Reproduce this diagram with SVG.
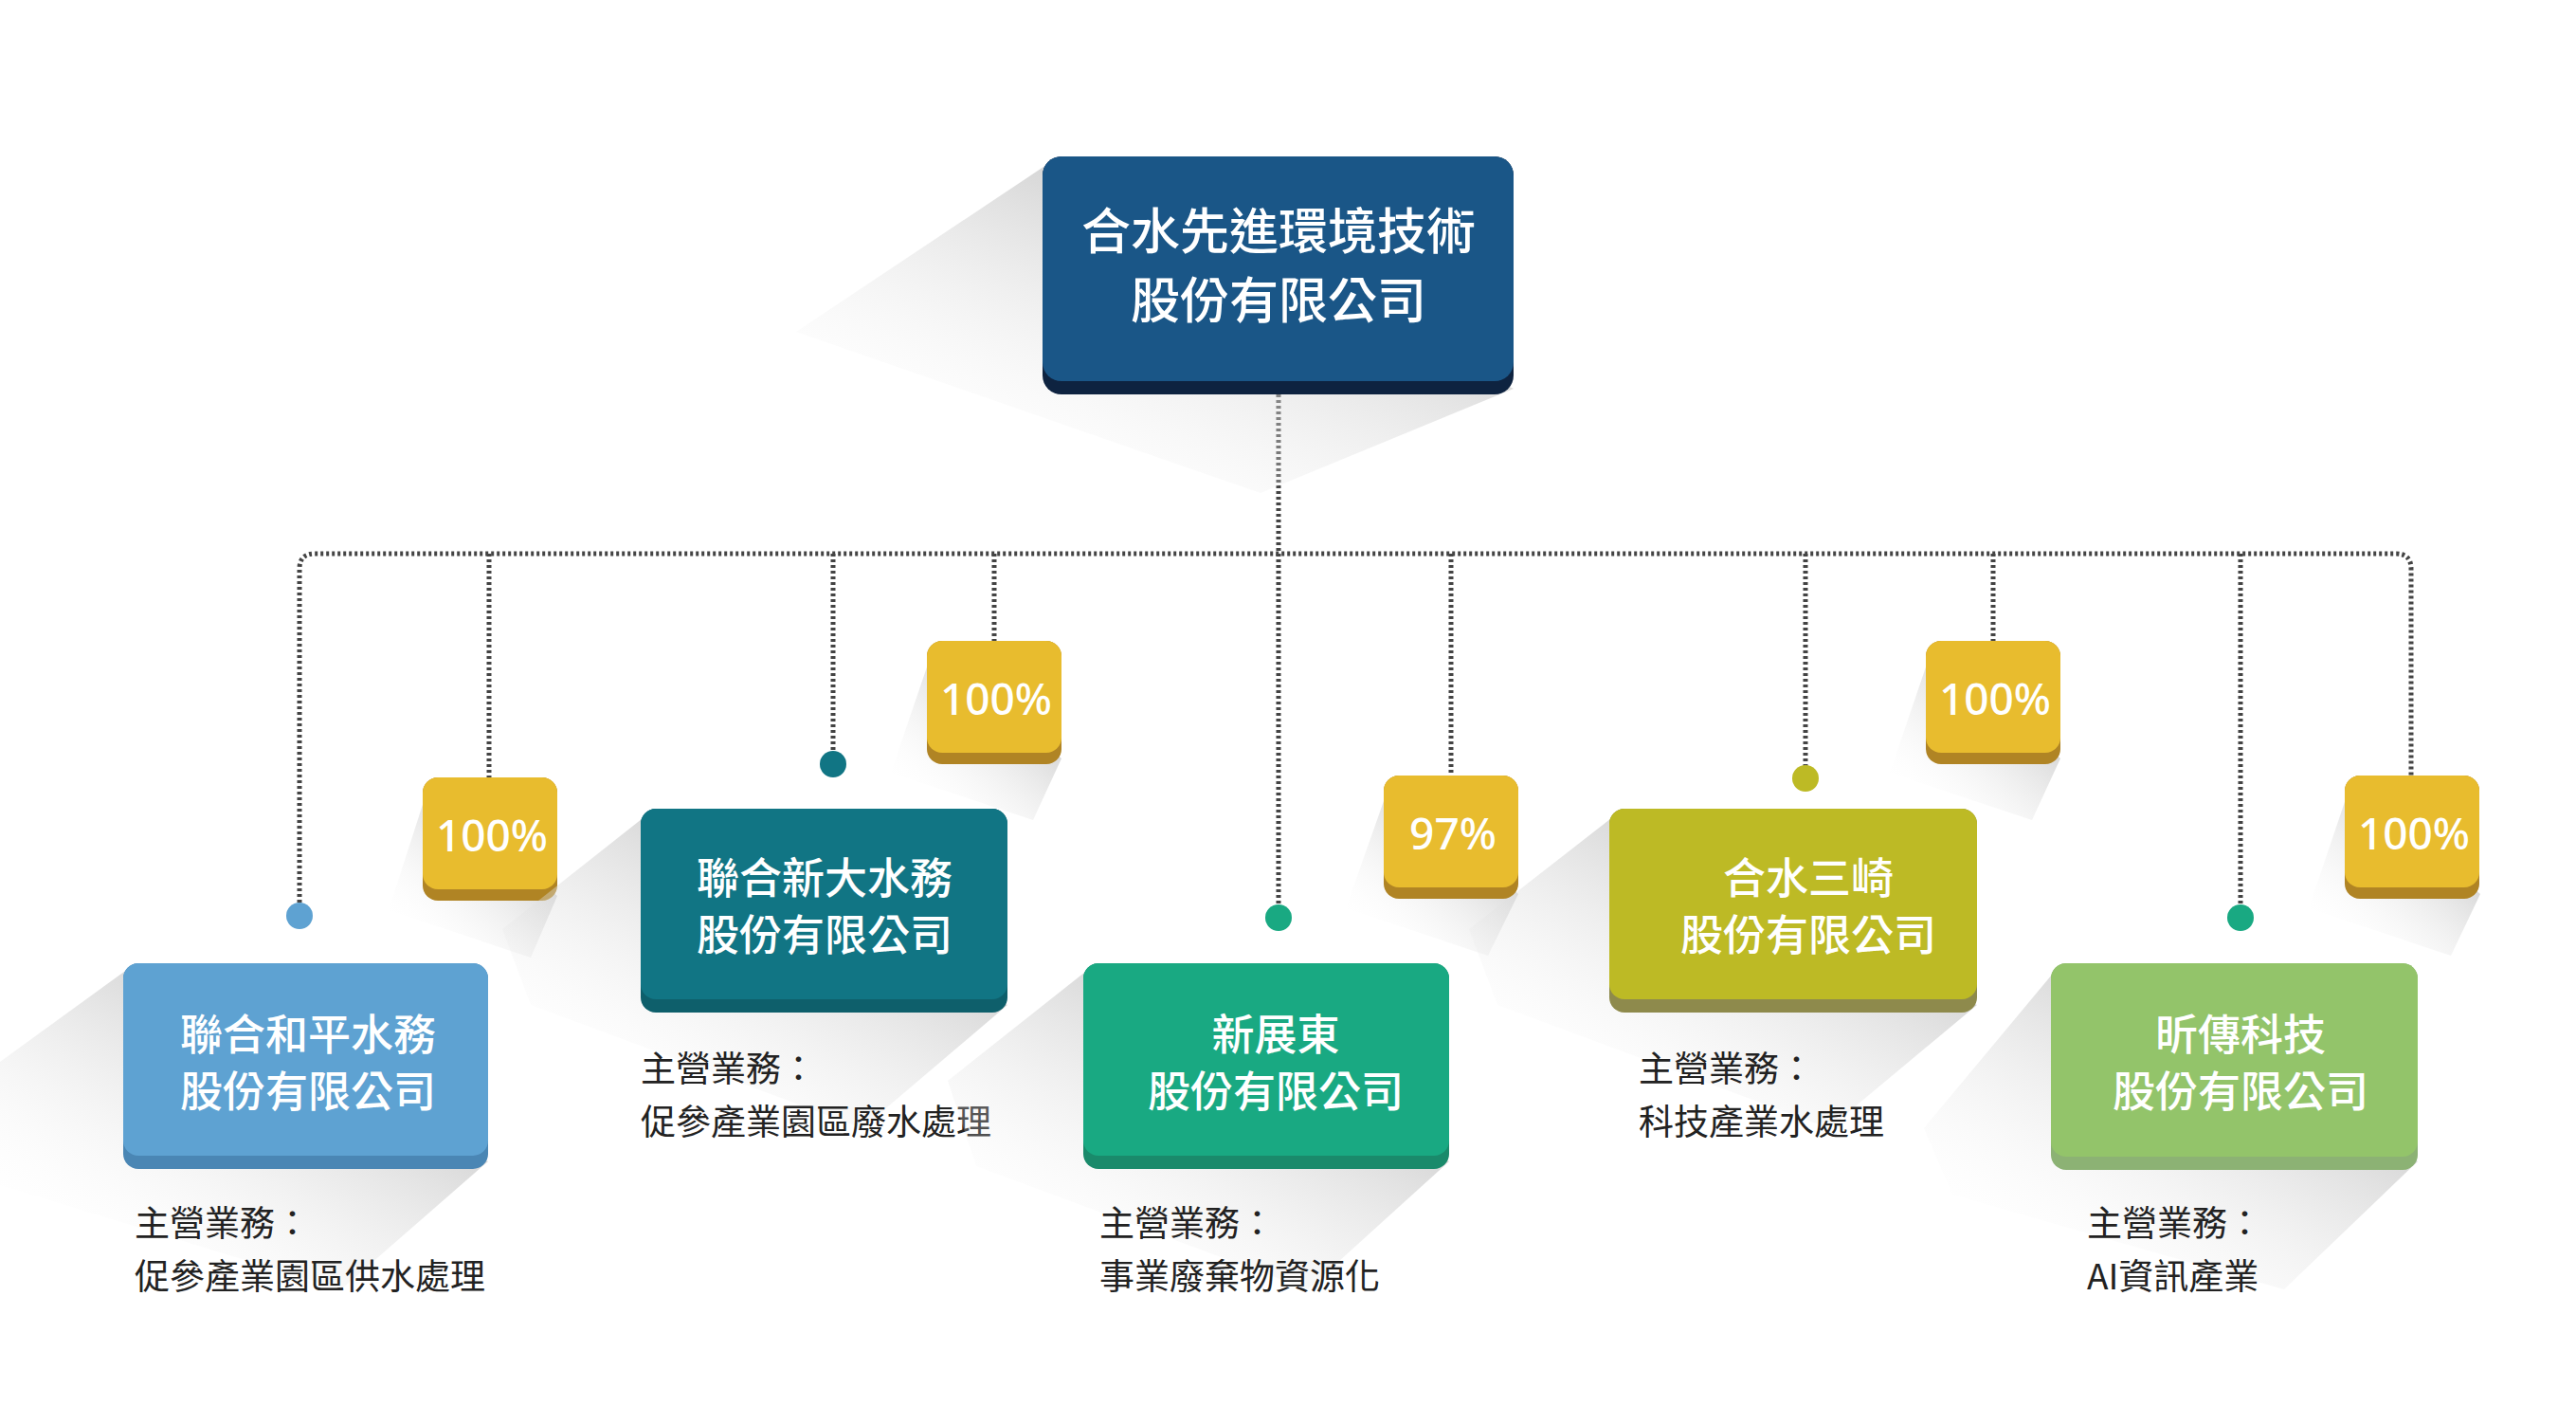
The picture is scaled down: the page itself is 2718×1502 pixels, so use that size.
<svg xmlns="http://www.w3.org/2000/svg" width="2718" height="1502" viewBox="0 0 2718 1502">
<style>
.t{font-family:"Noto Sans CJK TC","Noto Sans",sans-serif;fill:#fff;text-anchor:middle;font-weight:500}
.b{font-family:"Noto Sans CJK TC","Noto Sans",sans-serif;fill:#222;font-size:37px}
.p{font-family:"Noto Sans","Noto Sans CJK TC",sans-serif;fill:#fff;font-size:46px;text-anchor:middle;font-weight:500}
.ln{fill:none;stroke:#444;stroke-width:5;stroke-dasharray:3 3}
.sh{fill:url(#sg)}
</style>
<defs>
<linearGradient id="sg" x1="0.8" y1="0.1" x2="0.1" y2="0.9">
<stop offset="0" stop-color="#b5b5b5" stop-opacity="0.9"/>
<stop offset="1" stop-color="#ffffff" stop-opacity="0"/>
</linearGradient>
</defs>
<rect width="2718" height="1502" fill="#fff"/>
<g id="connectors">
<path class="ln" d="M316 958 V600 Q316 584 332 584 H2528 Q2544 584 2544 600 V818"/>
<path class="ln" d="M516 584 V820 M879 584 V803 M1049 584 V676 M1349 416 V966 M1531 584 V818 M1905 584 V818 M2103 584 V676 M2364 584 V966"/>
<circle cx="316" cy="966" r="14" fill="#5EA2D2"/>
<circle cx="879" cy="806" r="14" fill="#117584"/>
<circle cx="1349" cy="968" r="14" fill="#19A982"/>
<circle cx="1905" cy="821" r="14" fill="#BDBA25"/>
<circle cx="2364" cy="968" r="14" fill="#19A982"/>
</g>
<g id="top">
<polygon class="sh" points="1110,170 840,350 1330,520 1597,410"/>
<rect x="1100" y="165" width="497" height="251" rx="20" fill="#0E2340"/>
<rect x="1100" y="165" width="497" height="237" rx="20" fill="#1A5687"/>
<text class="t" x="1349" y="263" font-size="52">合水先進環境技術</text>
<text class="t" x="1349" y="336" font-size="52">股份有限公司</text>
</g>
<g id="b1"><polygon class="sh" points="452,830 410,960 560,1010 588,945"/>
<rect x="446" y="820" width="142" height="130" rx="16" fill="#B08424"/><rect x="446" y="820" width="142" height="118" rx="16" fill="#E8BC2E"/>
<text class="p" x="519" y="898">100%</text></g>
<g id="b2"><polygon class="sh" points="984,686 940,815 1090,865 1120,800"/>
<rect x="978" y="676" width="142" height="130" rx="16" fill="#B08424"/><rect x="978" y="676" width="142" height="118" rx="16" fill="#E8BC2E"/>
<text class="p" x="1051" y="754">100%</text></g>
<g id="b3"><polygon class="sh" points="1466,828 1420,958 1570,1008 1602,943"/>
<rect x="1460" y="818" width="142" height="130" rx="16" fill="#B08424"/><rect x="1460" y="818" width="142" height="118" rx="16" fill="#E8BC2E"/>
<text class="p" x="1533" y="896">97%</text></g>
<g id="b4"><polygon class="sh" points="2038,686 1994,815 2144,865 2174,800"/>
<rect x="2032" y="676" width="142" height="130" rx="16" fill="#B08424"/><rect x="2032" y="676" width="142" height="118" rx="16" fill="#E8BC2E"/>
<text class="p" x="2105" y="754">100%</text></g>
<g id="b5"><polygon class="sh" points="2480,828 2436,958 2586,1008 2617,943"/>
<rect x="2474" y="818" width="142" height="130" rx="16" fill="#B08424"/><rect x="2474" y="818" width="142" height="118" rx="16" fill="#E8BC2E"/>
<text class="p" x="2547" y="896">100%</text></g>
<g id="c1"><polygon class="sh" points="135,1022 0,1120 0,1250 360,1360 515,1225"/>
<rect x="130" y="1016" width="385" height="217" rx="16" fill="#4A86B4"/><rect x="130" y="1016" width="385" height="203" rx="16" fill="#5EA2D2"/>
<text class="t" x="325" y="1108" font-size="45">聯合和平水務</text><text class="t" x="325" y="1168" font-size="45">股份有限公司</text>
<text class="b" x="142" y="1304">主營業務：</text><text class="b" x="142" y="1360">促參產業園區供水處理</text></g>
<g id="c2"><polygon class="sh" points="682,860 530,980 560,1060 910,1190 1063,1060"/>
<rect x="676" y="853" width="387" height="215" rx="16" fill="#0E5F6B"/><rect x="676" y="853" width="387" height="201" rx="16" fill="#117584"/>
<text class="t" x="870" y="943" font-size="45">聯合新大水務</text><text class="t" x="870" y="1003" font-size="45">股份有限公司</text>
<text class="b" x="676" y="1141">主營業務：</text><text class="b" x="676" y="1197">促參產業園區廢水處理</text></g>
<g id="c3"><polygon class="sh" points="1149,1022 1000,1140 1030,1230 1380,1360 1529,1225"/>
<rect x="1143" y="1016" width="386" height="217" rx="16" fill="#1A8A6B"/><rect x="1143" y="1016" width="386" height="203" rx="16" fill="#19A982"/>
<text class="t" x="1346" y="1108" font-size="45">新展東</text><text class="t" x="1346" y="1168" font-size="45">股份有限公司</text>
<text class="b" x="1160" y="1304">主營業務：</text><text class="b" x="1160" y="1360">事業廢棄物資源化</text></g>
<g id="c4"><polygon class="sh" points="1704,860 1550,980 1580,1060 1930,1190 2086,1060"/>
<rect x="1698" y="853" width="388" height="215" rx="16" fill="#8E8A4C"/><rect x="1698" y="853" width="388" height="201" rx="16" fill="#BDBA25"/>
<text class="t" x="1908" y="943" font-size="45">合水三崎</text><text class="t" x="1908" y="1003" font-size="45">股份有限公司</text>
<text class="b" x="1729" y="1141">主營業務：</text><text class="b" x="1729" y="1197">科技產業水處理</text></g>
<g id="c5"><polygon class="sh" points="2170,1022 2030,1190 2060,1260 2410,1360 2551,1225"/>
<rect x="2164" y="1016" width="387" height="218" rx="16" fill="#8CB274"/><rect x="2164" y="1016" width="387" height="204" rx="16" fill="#93C46A"/>
<text class="t" x="2364" y="1108" font-size="45">昕傳科技</text><text class="t" x="2364" y="1168" font-size="45">股份有限公司</text>
<text class="b" x="2202" y="1304">主營業務：</text><text class="b" x="2202" y="1360">AI資訊產業</text></g>
</svg>
